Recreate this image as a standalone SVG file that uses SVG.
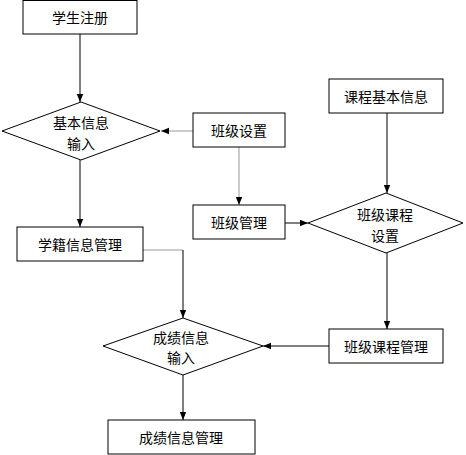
<svg xmlns="http://www.w3.org/2000/svg" width="466" height="455" viewBox="0 0 466 455">
<style>
.n{fill:#fff;stroke:#000;stroke-width:1}
.t{font-family:"Noto Sans CJK SC","Liberation Sans",sans-serif;font-size:14px;fill:#000;text-anchor:middle;dominant-baseline:central}
.c{fill:none;stroke:#000;stroke-width:1}
.g{stroke:#999}
</style>
<defs>
<marker id="a" viewBox="0 0 8 8" refX="8" refY="4" markerWidth="8" markerHeight="8" markerUnits="userSpaceOnUse" orient="auto">
<path d="M0,0.8 L8,4 L0,7.2 Z" fill="#000"/>
</marker>
</defs>
<rect width="466" height="455" fill="#fff"/>
<g id="connectors">
<line class="c" x1="80" y1="34" x2="80" y2="102" marker-end="url(#a)"/>
<line class="c g" x1="193" y1="131" x2="161" y2="131" marker-end="url(#a)"/>
<line class="c g" x1="239" y1="147" x2="239" y2="205" marker-end="url(#a)"/>
<line class="c" x1="285" y1="223" x2="308" y2="223" marker-end="url(#a)"/>
<line class="c" x1="387" y1="113" x2="387" y2="193" marker-end="url(#a)"/>
<line class="c" x1="80" y1="160" x2="80" y2="227" marker-end="url(#a)"/>
<line class="c" x1="387" y1="253" x2="387" y2="329" marker-end="url(#a)"/>
<line class="c" x1="329" y1="346" x2="263" y2="346" marker-end="url(#a)"/>
<polyline class="c g" points="140,250 183,250"/>
<line class="c" x1="183" y1="250" x2="183" y2="318" marker-end="url(#a)"/>
<line class="c" x1="183" y1="375" x2="183" y2="420" marker-end="url(#a)"/>
</g>
<g id="n1"><rect class="n" x="23" y="0.5" width="114" height="33.5"/><text class="t" x="80" y="17">学生注册</text></g>
<g id="n2"><polygon class="n" points="81,102 160,131 81,160 2,131"/><text class="t" x="81" y="122">基本信息</text><text class="t" x="81" y="143">输入</text></g>
<g id="n3"><rect class="n" x="193" y="113" width="92" height="34"/><text class="t" x="239" y="130">班级设置</text></g>
<g id="n4"><rect class="n" x="193" y="205" width="92" height="34"/><text class="t" x="239" y="222">班级管理</text></g>
<g id="n5"><rect class="n" x="329" y="79" width="114" height="34"/><text class="t" x="386" y="96">课程基本信息</text></g>
<g id="n6"><polygon class="n" points="386,193 463,223 386,253 308,223"/><text class="t" x="385" y="214">班级课程</text><text class="t" x="385" y="235">设置</text></g>
<g id="n7"><rect class="n" x="17" y="227" width="126" height="34"/><text class="t" x="80" y="244">学籍信息管理</text></g>
<g id="n8"><rect class="n" x="329" y="329" width="114" height="34"/><text class="t" x="386" y="346">班级课程管理</text></g>
<g id="n9"><polygon class="n" points="183,318 263,346 183,375 103,346"/><text class="t" x="181" y="337">成绩信息</text><text class="t" x="181" y="357">输入</text></g>
<g id="n10"><rect class="n" x="108" y="420" width="147" height="34"/><text class="t" x="181" y="437">成绩信息管理</text></g>
</svg>
